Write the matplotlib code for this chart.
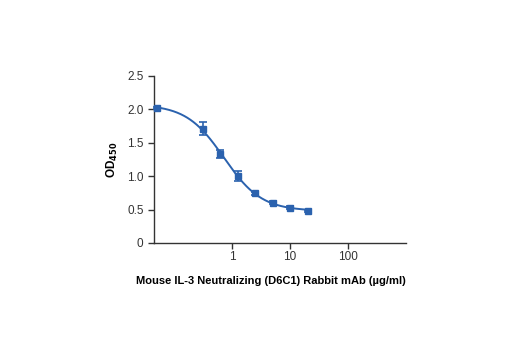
import numpy as np
import matplotlib
matplotlib.use("Agg")
import matplotlib.pyplot as plt
from matplotlib import font_manager as fm

# Data
conc = [0.05, 0.3125, 0.625, 1.25, 2.5, 5, 10, 20]
od = [2.02, 1.71, 1.33, 1.00, 0.74, 0.60, 0.53, 0.48]
err = [0.02, 0.10, 0.065, 0.07, 0.02, 0.02, 0.02, 0.02]
xticks = [1, 10, 100]
xticklabels = ["1", "10", "100"]
yticks = [0, 0.5, 1.0, 1.5, 2.0, 2.5]
yticklabels = ["0", "0.5", "1.0", "1.5", "2.0", "2.5"]

names = {f.name for f in fm.fontManager.ttflist}
fam = ["Liberation Sans Narrow", "DejaVu Sans"] if "Liberation Sans Narrow" in names else ["Liberation Sans", "DejaVu Sans"]
plt.rcParams['font.family'] = fam

color = "#2b62ae"

# 4PL fit of the points (grid search for EC50/hill, linear solve for top/bottom)
lx = np.log10(np.array(conc))
y = np.array(od)
best = None
for lec in np.linspace(-1, 1.5, 251):
    for h in np.linspace(0.3, 3, 136):
        s = 1.0 / (1.0 + 10 ** ((lx - lec) * h))
        A = np.vstack([s, 1 - s]).T
        coef, *_ = np.linalg.lstsq(A, y, rcond=None)
        r = np.sum((A @ coef - y) ** 2)
        if best is None or r < best[0]:
            best = (r, lec, h, coef)
_, lec, h, coef = best
xs = np.logspace(np.log10(0.045), np.log10(max(conc)), 300)
ss = 1.0 / (1.0 + 10 ** ((np.log10(xs) - lec) * h))
ys = coef[0] * ss + coef[1] * (1 - ss)

fig = plt.figure(figsize=(5.2, 3.5), dpi=100)
ax = fig.add_axes([0.296, 0.306, 0.485, 0.477])
ax.plot(xs, ys, color=color, lw=1.4, zorder=2)
ax.errorbar(conc, od, yerr=err, fmt="s", color=color, ms=5, capsize=3,
            elinewidth=1.2, capthick=1.2, zorder=3, clip_on=False)
ax.set_xscale("log")
ax.set_xlim(0.045, 1000)
ax.set_ylim(0, 2.5)
ax.set_xticks(xticks)
ax.set_xticklabels(xticklabels)
ax.xaxis.set_minor_locator(matplotlib.ticker.NullLocator())
ax.set_yticks(yticks)
ax.set_yticklabels(yticklabels)
for s in ["top", "right"]:
    ax.spines[s].set_visible(False)
for s in ["left", "bottom"]:
    ax.spines[s].set_color("#333333")
    ax.spines[s].set_linewidth(1.0)
ax.tick_params(axis="both", labelsize=8.5, colors="#333333", length=4, width=1.0)
ax.tick_params(axis="x", pad=2)
ax.set_xlabel("Mouse IL-3 Neutralizing (D6C1) Rabbit mAb (µg/ml)", fontsize=8,
              fontweight="bold")
ax.xaxis.set_label_coords(0.465, -0.2)
ax.set_ylabel(r"OD$_{\mathbf{450}}$", fontsize=8.5, fontweight="bold", labelpad=5)
fig.savefig("out.png", dpi=100)
